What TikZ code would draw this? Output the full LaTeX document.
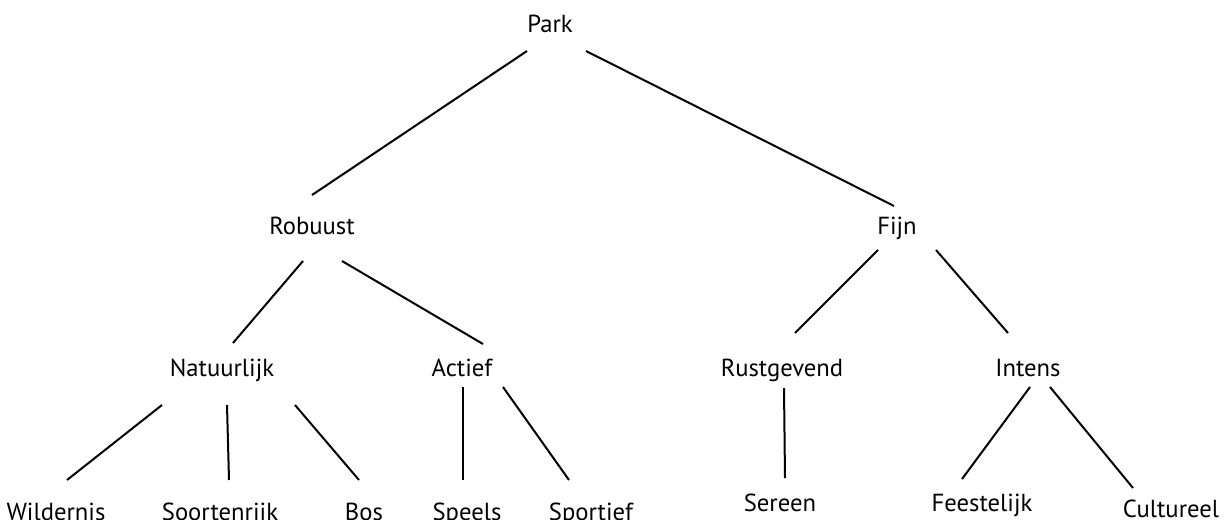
\documentclass[tikz,border=0pt]{standalone}
\usepackage{fontspec}
\setmainfont{PT Sans}
\usepackage{xcolor}
\usepackage{tikz}

\tikzset{
  lbl/.style={anchor=base, inner sep=0pt, font=\fontsize{18.5}{22}\selectfont},
  twig/.style={line width=1.5pt}
}

\begin{document}
\begin{tikzpicture}[x=0.75pt, y=-0.75pt]
\useasboundingbox (0,0) rectangle (1228,519);
% levels of the tree
\node[lbl] (park) at (550,32) {Park};
\node[lbl] (robuust) at (312,234) {Robuust};
\node[lbl] (fijn) at (897,234) {Fijn};
\node[lbl] (natuurlijk) at (222,376) {Natuurlijk};
\node[lbl] (actief) at (462,376) {Actief};
\node[lbl] (rustgevend) at (782,376) {Rustgevend};
\node[lbl] (intens) at (1028,376) {Intens};
\node[lbl] (wildernis) at (56,520) {Wildernis};
\node[lbl] (soortenrijk) at (220,520) {Soortenrijk};
\node[lbl] (bos) at (364,520) {Bos};
\node[lbl] (speels) at (467,520) {Speels};
\node[lbl] (sportief) at (591,520) {Sportief};
\node[lbl] (sereen) at (780,511) {Sereen};
\node[lbl] (feestelijk) at (982,511) {Feestelijk};
\node[lbl] (cultureel) at (1171,517) {Cultureel};
% branches
\draw[twig] ([shift={(-23,19)}]park.base) -- ([shift={(0,-39)}]robuust.base);
\draw[twig] ([shift={(36,19)}]park.base) -- ([shift={(-3,-28)}]fijn.base);
\draw[twig] ([shift={(-9,27)}]robuust.base) -- ([shift={(11,-33)}]natuurlijk.base);
\draw[twig] ([shift={(30,27)}]robuust.base) -- ([shift={(21,-32)}]actief.base);
\draw[twig] ([shift={(-19,16)}]fijn.base) -- ([shift={(13,-43)}]rustgevend.base);
\draw[twig] ([shift={(39,16)}]fijn.base) -- ([shift={(-20,-43)}]intens.base);
\draw[twig] ([shift={(-60,29)}]natuurlijk.base) -- ([shift={(11,-40)}]wildernis.base);
\draw[twig] ([shift={(5,29)}]natuurlijk.base) -- ([shift={(9,-40)}]soortenrijk.base);
\draw[twig] ([shift={(73,29)}]natuurlijk.base) -- ([shift={(-5,-40)}]bos.base);
\draw[twig] ([shift={(1,11)}]actief.base) -- ([shift={(-4,-40)}]speels.base);
\draw[twig] ([shift={(41,11)}]actief.base) -- ([shift={(-22,-40)}]sportief.base);
\draw[twig] ([shift={(2,12)}]rustgevend.base) -- ([shift={(5,-33)}]sereen.base);
\draw[twig] ([shift={(2,11)}]intens.base) -- ([shift={(-20,-32)}]feestelijk.base);
\draw[twig] ([shift={(22,11)}]intens.base) -- ([shift={(-38,-29)}]cultureel.base);
\end{tikzpicture}
\end{document}
